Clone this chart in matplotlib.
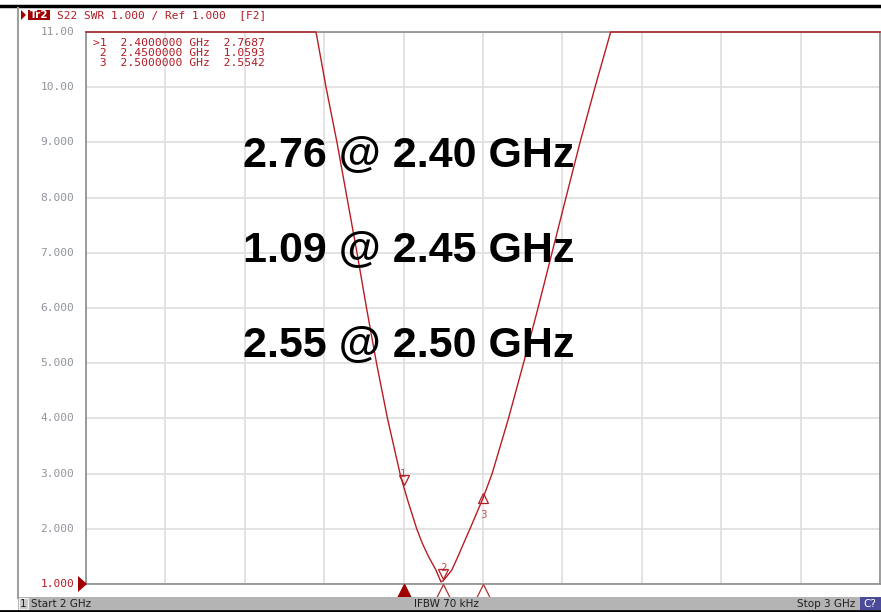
import matplotlib
matplotlib.use("Agg")
import matplotlib.pyplot as plt
from matplotlib.patches import Rectangle, Polygon

W, H = 881, 612

# ---- data ----
freq_ghz = [2.000, 2.2897, 2.3023, 2.3161, 2.3287, 2.3413, 2.3533, 2.3659, 2.3797,
            2.3955, 2.400, 2.4055, 2.4165, 2.4232, 2.4313, 2.4408, 2.4470, 2.4500,
            2.4606, 2.4685, 2.4760, 2.4836, 2.500, 2.5115, 2.5321, 2.5510, 2.5693,
            2.5869, 2.6045, 2.6222, 2.6411, 2.6608, 3.000]
swr = [11.0, 11.0, 10.0, 9.0, 8.0, 7.0, 6.0, 5.0, 4.0,
       3.0, 2.7687, 2.5, 2.0, 1.75, 1.50, 1.25, 1.04, 1.0593,
       1.25, 1.50, 1.75, 2.0, 2.5542, 3.0, 4.0, 5.0, 6.0,
       7.0, 8.0, 9.0, 10.0, 11.0, 11.0]
marker_ids = ["1", "2", "3"]
marker_freq = [2.40, 2.45, 2.50]
marker_swr = [2.7687, 1.0593, 2.5542]
marker_table = [">1  2.4000000 GHz  2.7687",
                " 2  2.4500000 GHz  1.0593",
                " 3  2.5000000 GHz  2.5542"]
y_ticks = [1, 2, 3, 4, 5, 6, 7, 8, 9, 10, 11]
y_tick_labels = ["1.000", "2.000", "3.000", "4.000", "5.000", "6.000",
                 "7.000", "8.000", "9.000", "10.00", "11.00"]
annotations = ["2.76 @ 2.40 GHz", "1.09 @ 2.45 GHz", "2.55 @ 2.50 GHz"]
header = "S22 SWR 1.000 / Ref 1.000  [F2]"

fig = plt.figure(figsize=(W / 100, H / 100), dpi=100)
fig.patch.set_facecolor("white")

def fx(x):
    return x / W

def fy(y):
    return 1 - y / H

L, R, T, B = 86, 880, 32, 584
ax = fig.add_axes([fx(L), fy(B), (R - L) / W, (B - T) / H])
ax.set_xlim(2, 3)
ax.set_ylim(1, 11)
for s in ax.spines.values():
    s.set_color("#8c8c8c")
    s.set_linewidth(1.2)
ax.set_xticks([2 + 0.1 * i for i in range(11)])
ax.set_yticks(y_ticks)
ax.tick_params(length=0, labelbottom=False, labelleft=False)
ax.grid(True, color="#dedede", linewidth=1.2)
ax.set_axisbelow(True)

RED = "#b81c24"
ax.plot(freq_ghz, swr, color=RED, linewidth=1.0, clip_on=False, zorder=5)

# markers on trace
for mid, mf, ms in zip(marker_ids, marker_freq, marker_swr):
    if mid == "3":
        ax.plot(mf, ms, marker="^", markersize=7, markerfacecolor="none",
                markeredgecolor=RED, markeredgewidth=0.9, zorder=6)
        ax.annotate(mid, (mf, ms), xytext=(0, -12), textcoords="offset points",
                    ha="center", va="center", fontsize=7.5, color="#c0504d")
    else:
        ax.annotate(mid, (mf, ms), xytext=(0, 9), textcoords="offset points",
                    ha="center", va="center", fontsize=7.5, color="#c0504d")
        ax.plot(mf, ms + 0.12, marker="v", markersize=7, markerfacecolor="none",
                markeredgecolor=RED, markeredgewidth=0.9, zorder=6)

# markers under axis
xt = ax.get_xaxis_transform()
for i, mf in enumerate(marker_freq):
    if i == 0:
        ax.plot(mf, -0.012, marker="^", markersize=10, color="#a00000",
                transform=xt, clip_on=False, zorder=6)
    else:
        ax.plot(mf, -0.012, marker="^", markersize=10, markerfacecolor="white",
                markeredgecolor="#b03030", markeredgewidth=0.9,
                transform=xt, clip_on=False, zorder=6)

# y tick labels
for v, lab in zip(y_ticks, y_tick_labels):
    ypix = B - (v - 1) * (B - T) / 10
    col = "#b01c24" if v == 1 else "#8f949c"
    fig.text(fx(74), fy(ypix), lab, ha="right", va="center",
             fontsize=8, family="DejaVu Sans Mono", color=col)
# reference arrow
fig.patches.append(Polygon([[fx(78), fy(576)], [fx(78), fy(592)], [fx(87), fy(584)]],
                           closed=True, transform=fig.transFigure,
                           facecolor="#a00000", edgecolor="none", zorder=10))

# marker table
for i, row in enumerate(marker_table):
    fig.text(fx(93), fy(42.5 + 10.5 * i), row, ha="left", va="center",
             fontsize=8.2, family="DejaVu Sans Mono", color="#b01c24")

# big annotations
for i, a in enumerate(annotations):
    fig.text(fx(243), fy(156 + 95 * i), a, ha="left", va="center",
             fontsize=31, fontweight="bold", family="Liberation Sans",
             color="black")

# header
fig.patches.append(Polygon([[fx(21), fy(10)], [fx(21), fy(20)], [fx(26), fy(15)]],
                           closed=True, transform=fig.transFigure,
                           facecolor="#a00000", edgecolor="none"))
fig.patches.append(Rectangle((fx(28), fy(20)), 22 / W, 10 / H,
                             transform=fig.transFigure, facecolor="#a00000",
                             edgecolor="none"))
fig.text(fx(39), fy(15), "Tr2", ha="center", va="center", fontsize=7.5,
         fontweight="bold", color="white", family="DejaVu Sans Condensed")
fig.text(fx(57), fy(15), header, ha="left", va="center", fontsize=8,
         family="DejaVu Sans Mono", color="#b01c24")

# window frame lines
fig.add_artist(plt.Line2D([0, 1], [fy(6), fy(6)], color="black", linewidth=2.5,
                          transform=fig.transFigure))
fig.add_artist(plt.Line2D([fx(18), fx(18)], [fy(8), fy(598)], color="#a0a0a0",
                          linewidth=1.5, transform=fig.transFigure))

# status bar
fig.patches.append(Rectangle((fx(18), fy(610)), (W - 18) / W, 13 / H,
                             transform=fig.transFigure, facecolor="#b4b4b4",
                             edgecolor="none"))
fig.patches.append(Rectangle((fx(19), fy(609)), 9 / W, 11 / H,
                             transform=fig.transFigure, facecolor="#c8c8c8",
                             edgecolor="#f0f0f0", linewidth=0.8))
fig.patches.append(Rectangle((fx(860), fy(610)), 21 / W, 13 / H,
                             transform=fig.transFigure, facecolor="#4b4b99",
                             edgecolor="none"))
fig.add_artist(plt.Line2D([0, 1], [fy(611), fy(611)], color="black", linewidth=2,
                          transform=fig.transFigure))
st = dict(va="center", fontsize=7.5, family="DejaVu Sans", color="#202020")
fig.text(fx(23.5), fy(604), "1", ha="center", **st)
fig.text(fx(31), fy(604), "Start 2 GHz", ha="left", **st)
fig.text(fx(446), fy(604), "IFBW 70 kHz", ha="center", **st)
fig.text(fx(855), fy(604), "Stop 3 GHz", ha="right", **st)
fig.text(fx(870), fy(604), "C?", ha="center", va="center", fontsize=7.5,
         family="DejaVu Sans", color="white")

fig.savefig("out.png", dpi=100)
